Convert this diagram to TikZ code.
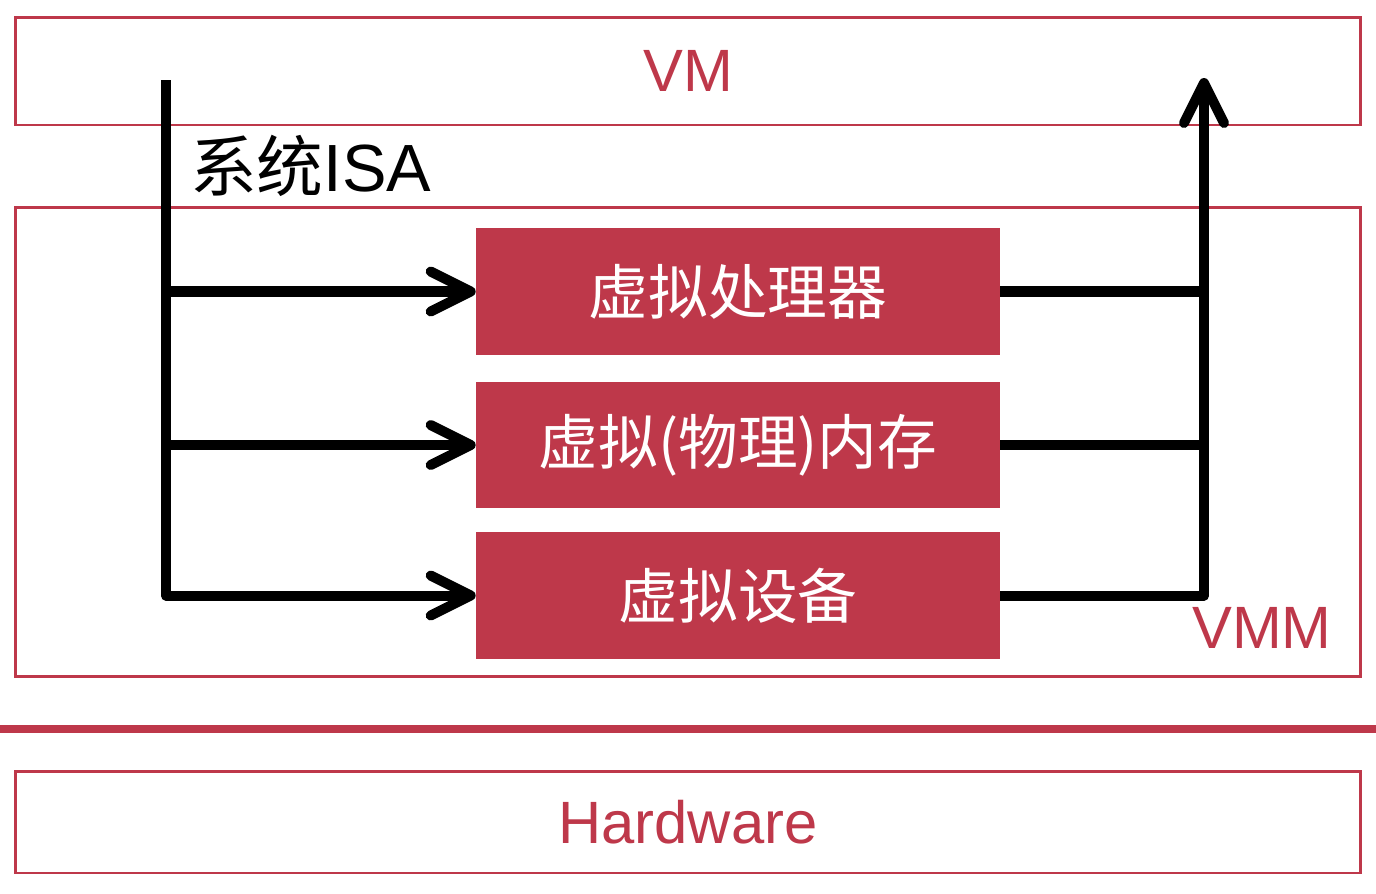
\documentclass[tikz,border=0pt]{standalone}
\usepackage{fontspec}
\setmainfont{Liberation Sans}
\newfontfamily\cjk{Noto Sans CJK SC}
\usetikzlibrary{arrows.meta,positioning}
\definecolor{vmred}{RGB}{190,56,74}
\tikzset{
    layer/.style = {
        draw = vmred,
        line width = 1.7pt,
        minimum width = 26.92cm,
        text = vmred,
        font = \fontsize{34}{40}\selectfont,
        },
    vbox/.style = {
        fill = vmred,
        text = white,
        minimum width = 10.48cm,
        minimum height = 2.54cm,
        font = \fontsize{34}{40}\selectfont\cjk,
        },
    flow/.style = {
        line width = 5.7pt,
        line join = round,
        },
}
\begin{document}
\begin{tikzpicture}[
                x = 0.02cm,
                y = -0.02cm,
                barb/.style = {-{Straight Barb[length=0.8cm, width=0.8cm, round]}},
            ]
            \useasboundingbox (0,0) rectangle (1376,893);

            % layers
            \node [layer, minimum height=2.16cm] (vm) at (688,71) {VM};
            \node [layer, minimum height=9.4cm] (vmm) at (688,442) {};
            \node [layer, minimum height=2.04cm] (hw) at (688,822) {Hardware};
            \node [text=vmred, font=\fontsize{34}{40}\selectfont] (vmmlabel) at (1262,628) {VMM};
            \draw [vmred, line width=4.5pt] (0,729) coordinate (sepl) -- (1376,729) coordinate (sepr);

            % virtual parts
            \node [vbox] (cpu) at (738,291.5) {虚拟处理器};
            \node [vbox] (mem) at (738,445) {虚拟(物理)内存};
            \node [vbox] (dev) at (738,595.5) {虚拟设备};

            \node [anchor=west, font=\fontsize{38}{44}\selectfont] (isa) at (184,166) {{\cjk 系统}ISA};

            % isa arrows
            \coordinate (isatop) at (166,80);
            \draw [flow, barb] (isatop) |- (dev.west);
            \draw [flow, barb] (isatop |- cpu.west) -- (cpu.west);
            \draw [flow, barb] (isatop |- mem.west) -- (mem.west);

            % vmm arrows
            \coordinate (vmtop) at (1204,78);
            \draw [flow, barb] (dev.east) -| (vmtop);
            \draw [flow] (cpu.east) -- (cpu.east -| vmtop);
            \draw [flow] (mem.east) -- (mem.east -| vmtop);
        \end{tikzpicture}
\end{document}
